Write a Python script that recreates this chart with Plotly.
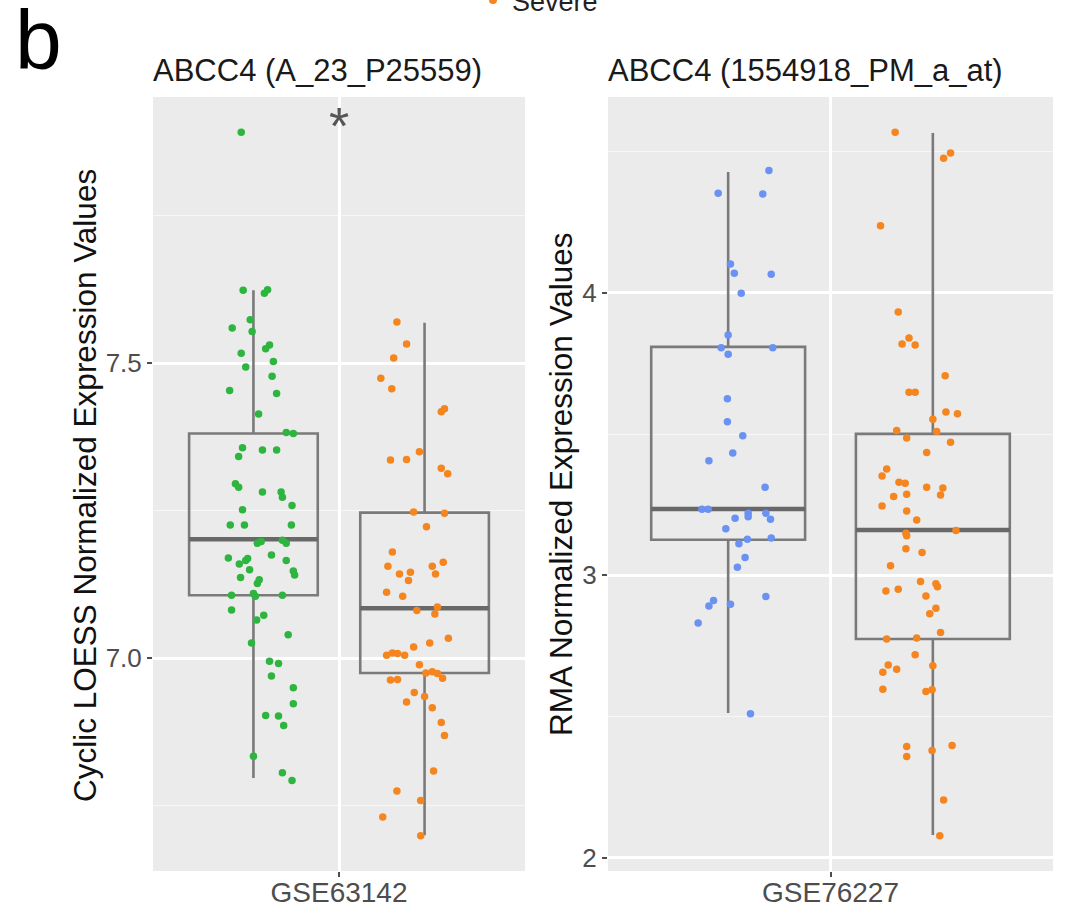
import numpy as np
import plotly.graph_objects as go

# ---------------- data ----------------
panel_titles = ["ABCC4 (A_23_P25559)", "ABCC4 (1554918_PM_a_at)"]
datasets = ["GSE63142", "GSE76227"]
y_titles = ["Cyclic LOESS Normalized Expression Values", "RMA Normalized Expression Values"]
left_ticks = [7.0, 7.5]
left_minor = [6.75, 7.25, 7.75]
right_ticks = [2, 3, 4]
right_minor = [2.5, 3.5, 4.5]
legend_label = "Severe"
significance = "*"

# box statistics: [lower whisker, Q1, median, Q3, upper whisker]
gse63142_mild_box = [6.797, 7.107, 7.202, 7.381, 7.624]
gse63142_severe_box = [6.700, 6.975, 7.085, 7.247, 7.569]
gse76227_mild_box = [2.513, 3.126, 3.235, 3.809, 4.428]
gse76227_severe_box = [2.081, 2.775, 3.161, 3.501, 4.566]

# jittered sample values (y) and horizontal jitter (1/100 of box half-width)
gse63142_mild_y = [7.892, 7.624, 7.619, 7.625, 7.574, 7.560, 7.554, 7.525, 7.531, 7.517,
                   7.503, 7.494, 7.478, 7.454, 7.449, 7.414, 7.383, 7.381, 7.357, 7.353,
                   7.353, 7.342, 7.296, 7.290, 7.282, 7.282, 7.273, 7.259, 7.252, 7.226,
                   7.226, 7.226, 7.195, 7.198, 7.200, 7.195, 7.170, 7.160, 7.166, 7.169,
                   7.175, 7.166, 7.150, 7.148, 7.141, 7.137, 7.133, 7.127, 7.110, 7.105,
                   7.107, 7.107, 7.082, 7.065, 7.073, 7.040, 7.026, 6.995, 6.991, 6.970,
                   6.950, 6.923, 6.903, 6.902, 6.886, 6.834, 6.806, 6.793]
gse63142_mild_jit = [-19, -16, 17, 22, -5, -33, -2, 19, 25, -19,
                     31, -12, 29, -37, 36, 8, 51, 62, -17, 14,
                     36, -23, -28, -23, 14, 43, 45, 60, -17, -36,
                     -14, 59, 6, 12, 45, 51, -39, -22, -12, -9,
                     28, 51, -6, 62, 64, -20, 9, 6, 0, 3,
                     -34, 45, -34, 5, 16, 54, -3, 25, 39, 28,
                     62, 62, 19, 39, 47, 0, 45, 60]

gse63142_severe_y = [7.570, 7.533, 7.509, 7.475, 7.457, 7.418, 7.423, 7.350, 7.336, 7.337,
                     7.322, 7.313, 7.248, 7.246, 7.223, 7.180, 7.156, 7.143, 7.146, 7.132,
                     7.156, 7.143, 7.163, 7.112, 7.105, 7.087, 7.075, 7.081, 7.034, 7.026,
                     7.019, 7.005, 7.009, 7.008, 7.005, 6.989, 6.975, 6.977, 6.974, 6.966,
                     6.963, 6.964, 6.942, 6.935, 6.926, 6.916, 6.891, 6.869, 6.809, 6.775,
                     6.759, 6.731, 6.699]
gse63142_severe_jit = [-43, -28, -48, -68, -51, 26, 31, -8, -53, -28,
                       26, 36, -17, 31, 3, -50, -57, -39, -22, -25,
                       12, 17, 29, -59, -34, 20, 16, -12, 37, 8,
                       -17, -59, -50, -42, -31, -8, 2, 12, 20, 28,
                       -53, -42, -16, 0, -28, 12, 26, 31, 14, -43,
                       -6, -65, -6]

gse76227_mild_y = [4.433, 4.353, 4.350, 4.102, 4.070, 4.066, 3.999, 3.851, 3.806, 3.783,
                   3.806, 3.625, 3.544, 3.494, 3.433, 3.406, 3.312, 3.234, 3.234, 3.202,
                   3.208, 3.220, 3.220, 3.199, 3.165, 3.112, 3.128, 3.132, 3.063, 3.029,
                   2.925, 2.911, 2.892, 2.898, 2.831, 2.510]
gse76227_mild_jit = [53, -13, 45, 3, 8, 56, 17, 0, -9, 0,
                     58, -1, -1, 19, 6, -25, 48, -34, -26, 9,
                     26, 26, 49, 55, -3, 14, 25, 56, 22, 12,
                     49, -19, -25, 3, -39, 29]

gse76227_severe_y = [4.569, 4.477, 4.495, 4.238, 3.932, 3.819, 3.840, 3.816, 3.707, 3.648,
                     3.648, 3.553, 3.578, 3.572, 3.513, 3.509, 3.486, 3.471, 3.435, 3.377,
                     3.352, 3.330, 3.326, 3.312, 3.309, 3.285, 3.279, 3.287, 3.246, 3.228,
                     3.196, 3.149, 3.140, 3.159, 3.094, 3.081, 3.034, 2.945, 2.951, 2.978,
                     2.970, 2.960, 2.927, 2.884, 2.864, 2.798, 2.775, 2.778, 2.719, 2.683,
                     2.657, 2.668, 2.680, 2.597, 2.589, 2.595, 2.394, 2.359, 2.380, 2.398,
                     2.205, 2.078]
gse76227_severe_jit = [-49, 14, 23, -68, -45, -40, -31, -23, 16, -31,
                       -23, 0, 17, 32, -47, 5, -34, 23, -8, -60,
                       -66, -44, -36, -8, 13, 10, -51, -34, -66, -34,
                       -21, -35, -34, 30, -35, -14, -55, -61, -45, -16,
                       4, 6, -9, 4, -4, 10, -60, -21, -23, -58,
                       -65, -47, 0, -65, -9, -1, -34, -34, -1, 25,
                       14, 9]

# ---------------- styling ----------------
W, H = 1075, 910
FONT = "Liberation Sans, Arial, Helvetica, sans-serif"
GREEN, ORANGE, BLUE = "#2DB540", "#F5851E", "#6A92F2"
BOX_LINE = "#7A7A7A"
MEDIAN_LINE = "#686868"
OFFSET = 0.276      # dodge offset of each box from the category centre
BOX_W = 0.415       # box width in category units
XR = [-0.6, 0.6]

def px(v):
    return v / W

def py(v):
    return 1 - v / H

panels = [
    dict(xa="x", ya="y", box=[gse63142_mild_box, gse63142_severe_box],
         ys=[gse63142_mild_y, gse63142_severe_y], jits=[gse63142_mild_jit, gse63142_severe_jit],
         colors=[GREEN, ORANGE], names=["Mild/Moderate", "Severe"]),
    dict(xa="x2", ya="y2", box=[gse76227_mild_box, gse76227_severe_box],
         ys=[gse76227_mild_y, gse76227_severe_y], jits=[gse76227_mild_jit, gse76227_severe_jit],
         colors=[BLUE, ORANGE], names=["Non-severe", "Severe"]),
]

fig = go.Figure()
ranges = []
for p in panels:
    allv = np.concatenate([np.array(v) for v in p["ys"]])
    lo, hi = allv.min(), allv.max()
    pad = 0.05 * (hi - lo)
    ranges.append([lo - pad, hi + pad])
    for k, side in enumerate([-1, 1]):
        c = side * OFFSET
        lf, q1, med, q3, uf = p["box"][k]
        fig.add_trace(go.Box(
            x=[c], q1=[q1], median=[med], q3=[q3], lowerfence=[lf], upperfence=[uf],
            width=BOX_W, whiskerwidth=0, boxpoints=False,
            fillcolor="rgba(0,0,0,0)", line=dict(color=BOX_LINE, width=2.6),
            xaxis=p["xa"], yaxis=p["ya"], showlegend=False, hoverinfo="skip"))
        fig.add_trace(go.Scatter(
            x=[c - BOX_W / 2, c + BOX_W / 2], y=[med, med], mode="lines",
            line=dict(color=MEDIAN_LINE, width=4.5),
            xaxis=p["xa"], yaxis=p["ya"], showlegend=False, hoverinfo="skip"))
    for k, side in enumerate([-1, 1]):
        c = side * OFFSET
        xs = c + np.array(p["jits"][k]) / 100.0 * (BOX_W / 2)
        fig.add_trace(go.Scatter(
            x=xs, y=p["ys"][k], mode="markers", name=p["names"][k],
            marker=dict(color=p["colors"][k], size=7.5, line=dict(width=0)),
            xaxis=p["xa"], yaxis=p["ya"], showlegend=False))

Y_DOM = [py(871), py(97)]
common_x = dict(range=XR, tickvals=[0], showgrid=True, gridcolor="white", gridwidth=2.5,
                zeroline=False, showline=False, ticks="outside", ticklen=5, tickwidth=1.5,
                tickcolor="#4d4d4d", tickfont=dict(size=28, color="#4D4D4D", family=FONT),
                ticklabelstandoff=-9,
                automargin=False, fixedrange=True)
common_y = dict(showgrid=True, gridcolor="white", gridwidth=2.5, zeroline=False, showline=False,
                ticks="outside", ticklen=5, tickwidth=1.5, tickcolor="#4d4d4d",
                tickfont=dict(size=26, color="#4D4D4D", family=FONT),
                automargin=False, domain=Y_DOM)

fig.update_layout(
    width=W, height=H,
    margin=dict(l=0, r=0, t=0, b=0),
    paper_bgcolor="white", plot_bgcolor="#EBEBEB",
    showlegend=False,
    xaxis=dict(common_x, domain=[px(153), px(525)], ticktext=[datasets[0]], anchor="y"),
    xaxis2=dict(common_x, domain=[px(608), px(1053)], ticktext=[datasets[1]], anchor="y2"),
    yaxis=dict(common_y, range=ranges[0], anchor="x", tickvals=left_ticks,
               ticktext=[f"{v:.1f}" for v in left_ticks],
               minor=dict(tickvals=left_minor, showgrid=True, gridcolor="#F7F7F7", gridwidth=1.3, ticks="")),
    yaxis2=dict(common_y, range=ranges[1], anchor="x2", tickvals=right_ticks,
                ticktext=[f"{v:g}" for v in right_ticks],
                minor=dict(tickvals=right_minor, showgrid=True, gridcolor="#F7F7F7", gridwidth=1.3, ticks="")),
)

ann = []
ann.append(dict(text="b", x=px(13), y=py(40), xref="paper", yref="paper", xanchor="left",
                yanchor="middle", showarrow=False, font=dict(size=84, color="black", family=FONT)))
ann.append(dict(text=panel_titles[0], x=px(151), y=py(71), xref="paper", yref="paper",
                xanchor="left", yanchor="middle", showarrow=False,
                font=dict(size=31, color="#1A1A1A", family=FONT)))
ann.append(dict(text=panel_titles[1], x=px(606), y=py(71), xref="paper", yref="paper",
                xanchor="left", yanchor="middle", showarrow=False,
                font=dict(size=31, color="#1A1A1A", family=FONT)))
ann.append(dict(text=y_titles[0], x=px(85), y=py(486), xref="paper", yref="paper",
                xanchor="center", yanchor="middle", textangle=-90, showarrow=False,
                font=dict(size=31.5, color="#111111", family=FONT)))
ann.append(dict(text=y_titles[1], x=px(561), y=py(484), xref="paper", yref="paper",
                xanchor="center", yanchor="middle", textangle=-90, showarrow=False,
                font=dict(size=31.5, color="#111111", family=FONT)))
ann.append(dict(text=significance, x=0, y=ranges[0][1], xref="x", yref="y",
                xanchor="center", yanchor="top", showarrow=False, yshift=2,
                font=dict(size=52, color="#555555", family=FONT)))
ann.append(dict(text=legend_label, x=px(510), y=py(2), xref="paper", yref="paper",
                xanchor="left", yanchor="middle", showarrow=False,
                font=dict(size=27, color="#222222", family=FONT)))
fig.update_layout(annotations=ann)
fig.add_shape(type="circle", xref="paper", yref="paper",
              x0=px(489), x1=px(497), y0=py(4), y1=py(-4),
              fillcolor=ORANGE, line=dict(width=0))

fig.write_html("out.html")
